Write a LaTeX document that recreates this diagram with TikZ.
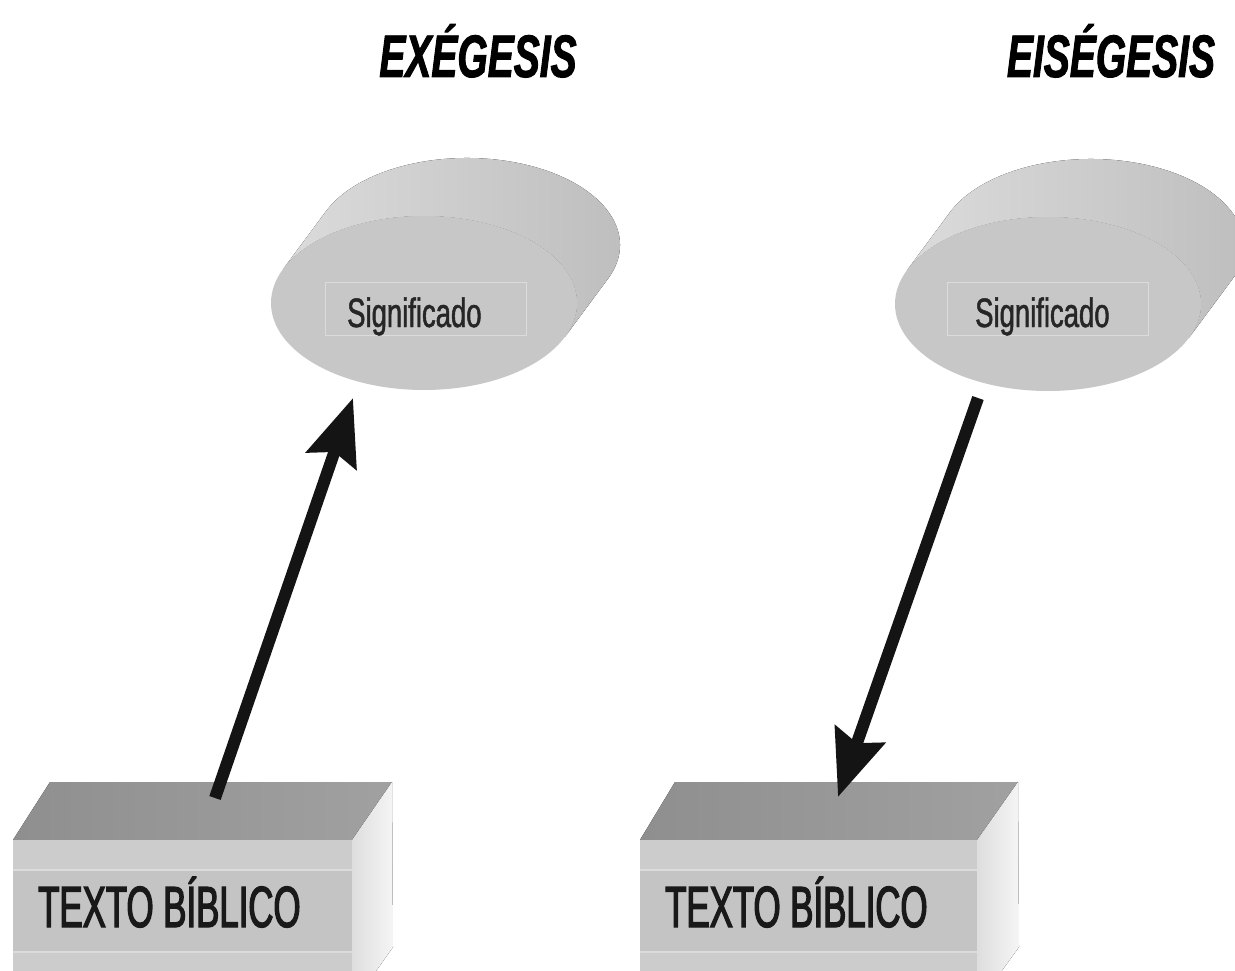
\documentclass[tikz,border=0pt]{standalone}
\usepackage{fontspec}
\setmainfont{Liberation Sans}
\newfontfamily\titlefont[FakeStretch=0.65,FakeBold=1.5]{Liberation Sans}
\newfontfamily\sigfont[FakeStretch=0.67,FakeBold=1.2]{Liberation Sans}
\newfontfamily\boxfont[FakeStretch=0.6,FakeBold=2.2]{Liberation Sans}
\usetikzlibrary{arrows.meta,shapes.geometric}
\definecolor{facefront}{gray}{0.78}
\definecolor{rectline}{gray}{0.86}
\tikzset{
  title/.style={anchor=base, inner sep=0, font=\titlefont\bfseries\itshape\fontsize{60}{60}\selectfont},
  sidefill/.style={left color=black!14, middle color=black!38, right color=black!26},
  frontface/.style={ellipse, fill=facefront, minimum width=306pt, minimum height=174pt, inner sep=0},
  textrect/.style={draw=rectline, line width=1pt, minimum width=201pt, minimum height=53pt, inner sep=0},
  sigtext/.style={anchor=base west, inner sep=0, font=\sigfont\fontsize{41}{41}\selectfont, text=black!85},
  boxtext/.style={anchor=base west, inner sep=0, font=\boxfont\fontsize{58}{58}\selectfont, text=black!90},
  topface/.style={left color=black!44, right color=black!37},
  sideface/.style={left color=black!13, right color=black!4},
  bigarrow/.style={line width=12pt, -{Stealth[length=66pt,width=52pt,inset=9pt]}, black!92}
}
\begin{document}
\begin{tikzpicture}[x=1pt,y=-1pt]
\clip (0,0) rectangle (1235,971);
\fill[white] (0,0) rectangle (1235,971);

% titles
\node[title] (ex) at (478,77) {EXÉGESIS};
\node[title] (eis) at (1111,77) {EISÉGESIS};

% left disc
\coordinate (F1) at (424,303);
\fill[sidefill] (F1) ++(22.9:153 and 87) -- ++(43,-58)
  arc[start angle=22.9, end angle=-157.1, x radius=153, y radius=87] -- ++(-43,58)
  arc[start angle=-157.1, end angle=22.9, x radius=153, y radius=87] -- cycle;
\node[frontface] (sig1) at (F1) {};
\node[textrect] (r1) at (426,308.5) {};
\node[sigtext] (s1) at (347,327) {Significado};

% right disc
\coordinate (F2) at (1048,304);
\fill[sidefill] (F2) ++(22.9:153 and 87) -- ++(43,-58)
  arc[start angle=22.9, end angle=-157.1, x radius=153, y radius=87] -- ++(-43,58)
  arc[start angle=-157.1, end angle=22.9, x radius=153, y radius=87] -- cycle;
\node[frontface] (sig2) at (F2) {};
\node[textrect] (r2) at (1047.5,308.5) {};
\node[sigtext] (s2) at (975,327) {Significado};

% left box
\fill[topface] (13,840) -- (352,840) -- (392,782) -- (50,782) -- cycle;
\fill[black!20] (13,840) rectangle (352,980);
\fill[black!23] (13,870) rectangle (352,952);
\draw[rectline, line width=1.5pt] (13,870) -- (352,870) (13,952) -- (352,952);
\fill[sideface] (352,840) -- (392,782) -- (393,947) -- (352,1005) -- cycle;
\node[boxtext] (b1) at (38,927) {TEXTO BÍBLICO};

% right box
\fill[topface] (640,840) -- (977,840) -- (1018,782) -- (675,782) -- cycle;
\fill[black!20] (640,840) rectangle (977,980);
\fill[black!23] (640,870) rectangle (977,952);
\draw[rectline, line width=1.5pt] (640,870) -- (977,870) (640,952) -- (977,952);
\fill[sideface] (977,840) -- (1018,782) -- (1019,947) -- (977,1005) -- cycle;
\node[boxtext] (b2) at (665,927) {TEXTO BÍBLICO};

% arrows
\coordinate (t1) at (215,798);
\coordinate (h1) at (353,398);
\draw[bigarrow] (t1) -- (h1);
\coordinate (t2) at (978,398);
\coordinate (h2) at (838,797);
\draw[bigarrow] (t2) -- (h2);
\end{tikzpicture}
\end{document}
